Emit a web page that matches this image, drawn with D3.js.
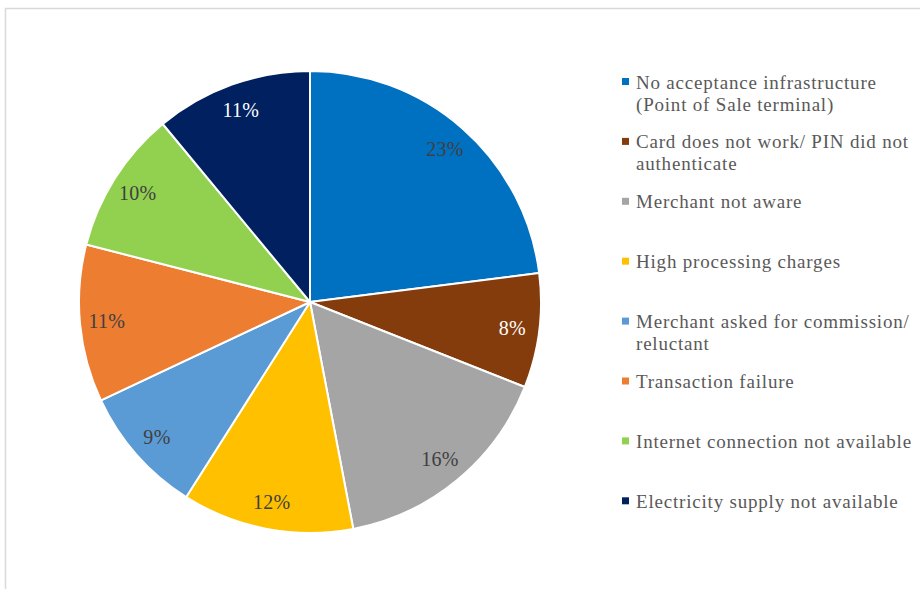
<!DOCTYPE html>
<html>
<head>
<meta charset="utf-8">
<script src="https://cdn.jsdelivr.net/npm/d3@7"></script>
<style>
  html, body { margin: 0; padding: 0; background: #fff; }
  svg { display: block; }
  svg text { font-family: "Liberation Serif", "Times New Roman", "DejaVu Serif", serif; }
</style>
</head>
<body>
<svg id="chart" width="920" height="589"></svg>
<script>
// Reasons for card payment not being accepted (share of responses, %)
const categories = [
  ["No acceptance infrastructure", "(Point of Sale terminal)"],
  ["Card does not work/ PIN did not", "authenticate"],
  ["Merchant not aware"],
  ["High processing charges"],
  ["Merchant asked for commission/", "reluctant"],
  ["Transaction failure"],
  ["Internet connection not available"],
  ["Electricity supply not available"]
];
const values = [23, 8, 16, 12, 9, 11, 10, 11];
const colors = ["#0070C0", "#843C0C", "#A5A5A5", "#FFC000", "#5B9BD5", "#ED7D31", "#92D050", "#002060"];
const labelColors = ["#404040", "#FFFFFF", "#404040", "#404040", "#404040", "#404040", "#404040", "#FFFFFF"];

const svg = d3.select("#chart");

// chart frame
svg.append("path")
  .attr("d", "M5.5,589 V8.5 H920")
  .attr("fill", "none")
  .attr("stroke", "#d9d9d9")
  .attr("stroke-width", 1.5);

const cx = 310, cy = 302, radius = 231, labelRadius = 204;

const data = values.map((v, i) => ({ value: v, index: i }));
const pie = d3.pie().value(d => d.value).sort(null);
const arcs = pie(data);
const arc = d3.arc().innerRadius(0).outerRadius(radius);
const labelArc = d3.arc().innerRadius(labelRadius).outerRadius(labelRadius);

const g = svg.append("g").attr("transform", `translate(${cx},${cy})`);

g.selectAll("path.slice")
  .data(arcs)
  .join("path")
  .attr("class", "slice")
  .attr("d", arc)
  .attr("fill", d => colors[d.data.index])
  .attr("stroke", "#fff")
  .attr("stroke-width", 2)
  .attr("stroke-linejoin", "round");

g.selectAll("text.value")
  .data(arcs)
  .join("text")
  .attr("class", "value")
  .attr("transform", d => `translate(${labelArc.centroid(d)})`)
  .attr("text-anchor", "middle")
  .attr("dominant-baseline", "central")
  .attr("font-size", 20)
  .attr("letter-spacing", 0.3)
  .attr("fill", d => labelColors[d.data.index])
  .text(d => d.data.value + "%");

// legend
const legendX = 622, legendY = 82, legendStep = 59.9, lineH = 22;
const legend = svg.append("g");
const items = legend.selectAll("g.item")
  .data(categories)
  .join("g")
  .attr("class", "item")
  .attr("transform", (d, i) => `translate(${legendX},${legendY + i * legendStep})`);

items.append("rect")
  .attr("x", 0).attr("y", -4)
  .attr("width", 7).attr("height", 7)
  .attr("fill", (d, i) => colors[i]);

items.each(function(lines) {
  const t = d3.select(this).append("text")
    .attr("font-size", 19)
    .attr("letter-spacing", 0.8)
    .attr("fill", "#595959");
  lines.forEach((ln, j) => {
    t.append("tspan")
      .attr("x", 14)
      .attr("y", j * lineH)
      .attr("dominant-baseline", "central")
      .text(ln);
  });
});
</script>
</body>
</html>
